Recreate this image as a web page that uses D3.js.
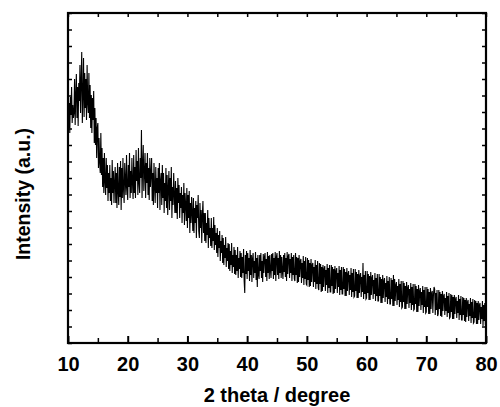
<!DOCTYPE html>
<html>
<head>
<meta charset="utf-8">
<style>
  body { margin: 0; background: #fff; }
  text { font-family: "Liberation Sans", Arial, sans-serif; font-weight: bold; }
</style>
</head>
<body>
<svg id="xrd" width="500" height="407" viewBox="0 0 500 407" xmlns="http://www.w3.org/2000/svg"></svg>
<script src="https://d3js.org/d3.v7.min.js"></script>
<script>

// 2 theta from 10 to 80, step 0.1 deg
const start2theta = 10, step2theta = 0.1;
// intensity (a.u.), one row per degree
const intensity = [
  2500, 2150, 2400, 2100, 2460, 2280, 2560, 2200, 2380, 2250,  // 10
  2300, 2640, 2180, 2480, 2690, 2250, 2560, 2170, 2600, 2420,  // 11
  2780, 2300, 2620, 2910, 2200, 2480, 2850, 2260, 2700, 2350,  // 12
  2640, 2230, 2780, 2400, 2300, 2700, 2250, 2580, 2150, 2480,  // 13
  2100, 2450, 2230, 2520, 2000, 2350, 1980, 2250, 1850, 2150,  // 14
  2200, 1750, 2050, 1800, 1700, 2100, 1680, 1950, 1560, 1850,  // 15
  1500, 1900, 1620, 1480, 1850, 1550, 1780, 1420, 1700, 1500,  // 16
  1780, 1420, 1650, 1380, 1830, 1500, 1720, 1400, 1600, 1760,  // 17
  1400, 1700, 1350, 1800, 1520, 1380, 1760, 1460, 1820, 1330,  // 18
  1750, 1450, 1850, 1540, 1400, 1800, 1620, 1480, 1880, 1560,  // 19
  1430, 1780, 1560, 1900, 1450, 1720, 1500, 1850, 1600, 1440,  // 20
  1880, 1500, 1760, 1450, 1930, 1620, 1820, 1480, 1950, 1600,  // 21
  1500, 1850, 1650, 2130, 1450, 1780, 1980, 1520, 1700, 1900,  // 22
  1450, 1800, 1600, 1900, 1480, 1750, 1430, 1850, 1560, 1700,  // 23
  1850, 1420, 1700, 1380, 1800, 1560, 1400, 1760, 1500, 1650,  // 24
  1350, 1750, 1500, 1800, 1330, 1620, 1700, 1380, 1780, 1450,  // 25
  1700, 1300, 1600, 1420, 1750, 1350, 1680, 1280, 1550, 1720,  // 26
  1330, 1650, 1420, 1760, 1250, 1560, 1380, 1700, 1480, 1300,  // 27
  1620, 1300, 1550, 1240, 1650, 1400, 1580, 1250, 1500, 1350,  // 28
  1560, 1200, 1480, 1300, 1600, 1180, 1500, 1380, 1220, 1550,  // 29
  1150, 1480, 1250, 1520, 1100, 1400, 1200, 1460, 1300, 1120,  // 30
  1450, 1100, 1350, 1200, 1420, 1050, 1380, 1250, 1480, 1120,  // 31
  1050, 1400, 1150, 1330, 1000, 1280, 1420, 1100, 1300, 1020,  // 32
  1300, 1000, 1200, 1080, 1330,  950, 1250, 1050, 1150,  970,  // 33
  1250,  950, 1150, 1020, 1260,  930, 1180,  980, 1100,  900,  // 34
  1150,  860, 1080,  950, 1120,  820, 1020,  900, 1080,  800,  // 35
  1050,  780,  980,  850, 1060,  760,  950,  820, 1000,  740,  // 36
   990,  720,  920,  780, 1000,  700,  880,  760,  960,  690,  // 37
   930,  680,  880,  720,  960,  650,  850,  740,  920,  660,  // 38
   900,  650,  860,  700,  940,  620,  500,  880,  690,  920,  // 39
   640,  900,  720,  850,  620,  930,  680,  880,  610,  840,  // 40
   900,  650,  820,  700,  910,  630,  850,  560,  880,  680,  // 41
   640,  880,  720,  900,  650,  820,  610,  890,  700,  860,  // 42
   900,  660,  840,  620,  910,  700,  870,  640,  880,  730,  // 43
   650,  890,  720,  900,  640,  850,  680,  910,  620,  860,  // 44
   900,  680,  850,  640,  920,  700,  880,  650,  860,  720,  // 45
   640,  880,  710,  900,  660,  850,  620,  910,  690,  870,  // 46
   890,  650,  840,  700,  900,  620,  860,  680,  880,  640,  // 47
   620,  900,  680,  860,  600,  850,  610,  880,  660,  820,  // 48
   840,  600,  800,  650,  870,  580,  820,  640,  860,  590,  // 49
   580,  850,  630,  830,  560,  800,  570,  840,  610,  780,  // 50
   800,  560,  760,  610,  830,  540,  780,  590,  820,  550,  // 51
   530,  800,  590,  790,  510,  760,  520,  780,  560,  740,  // 52
   770,  520,  730,  580,  790,  500,  750,  550,  780,  510,  // 53
   510,  780,  570,  760,  490,  740,  500,  770,  540,  720,  // 54
   750,  500,  700,  560,  770,  480,  730,  530,  760,  490,  // 55
   490,  760,  540,  740,  470,  710,  470,  750,  520,  690,  // 56
   720,  480,  680,  530,  750,  460,  700,  510,  740,  460,  // 57
   470,  740,  520,  710,  450,  690,  450,  730,  500,  670,  // 58
   700,  460,  660,  510,  800,  440,  680,  490,  720,  440,  // 59
   450,  720,  500,  690,  430,  670,  430,  710,  480,  650,  // 60
   680,  440,  630,  490,  700,  420,  650,  470,  690,  420,  // 61
   420,  690,  470,  660,  400,  640,  400,  680,  450,  620,  // 62
   650,  410,  600,  460,  670,  390,  620,  440,  660,  390,  // 63
   390,  650,  440,  630,  370,  680,  370,  640,  420,  580,  // 64
   610,  380,  570,  430,  640,  360,  590,  410,  620,  350,  // 65
   360,  620,  410,  600,  340,  570,  340,  610,  390,  550,  // 66
   580,  350,  540,  400,  600,  330,  560,  380,  590,  330,  // 67
   340,  590,  390,  570,  310,  540,  310,  580,  370,  520,  // 68
   550,  330,  510,  380,  570,  300,  530,  360,  560,  300,  // 69
   310,  560,  360,  540,  290,  510,  290,  550,  340,  500,  // 70
   520,  300,  480,  560,  540,  280,  500,  330,  530,  270,  // 71
   290,  530,  340,  510,  270,  490,  260,  520,  320,  470,  // 72
   490,  280,  450,  320,  510,  260,  470,  300,  500,  250,  // 73
   260,  490,  310,  480,  240,  460,  240,  480,  290,  440,  // 74
   460,  250,  420,  300,  480,  230,  440,  280,  470,  230,  // 75
   230,  460,  280,  450,  220,  430,  210,  450,  260,  410,  // 76
   430,  220,  390,  270,  450,  200,  410,  250,  440,  200,  // 77
   210,  430,  250,  420,  190,  400,  190,  420,  230,  380,  // 78
   400,  190,  360,  240,  420,  170,  380,  220,  400,  180,  // 79
   290                                                         // 80
];

const xTicks = [10, 20, 30, 40, 50, 60, 70, 80];
const xMinorTicks = [15, 25, 35, 45, 55, 65, 75];
const yTickStep = 165;

const margin = { left: 68, right: 14, top: 13, bottom: 64 };
const width = 500, height = 407;

const x = d3.scaleLinear()
  .domain([10, 80])
  .range([margin.left, width - margin.right]);

const y = d3.scaleLinear()
  .domain([0, 3300])
  .range([height - margin.bottom, margin.top]);

const svg = d3.select("#xrd");

const data = intensity.map((v, i) => ({ t: start2theta + i * step2theta, v: v }));

const line = d3.line()
  .x(d => x(d.t))
  .y(d => y(d.v));

svg.append("path")
  .datum(data)
  .attr("d", line)
  .attr("fill", "none")
  .attr("stroke", "#000")
  .attr("stroke-width", 1.1);

// bottom axis, major and minor ticks inward
const xAxis = d3.axisBottom(x)
  .tickValues(xTicks)
  .tickSize(-7)
  .tickPadding(14)
  .tickFormat(d3.format("d"));

const gx = svg.append("g")
  .attr("transform", `translate(0,${y(0)})`)
  .call(xAxis);
gx.select(".domain").remove();
gx.selectAll(".tick line").attr("stroke-width", 2);
gx.selectAll(".tick text")
  .attr("font-size", "20px")
  .attr("fill", "#000")
  .style("font-family", "'Liberation Sans', Arial, sans-serif")
  .style("font-weight", "bold");

const gxMinor = svg.append("g")
  .attr("transform", `translate(0,${y(0)})`)
  .call(d3.axisBottom(x).tickValues(xMinorTicks).tickSize(-5).tickFormat(""));
gxMinor.select(".domain").remove();
gxMinor.selectAll(".tick line").attr("stroke-width", 1.5);

// top axis ticks every 5
const gTop = svg.append("g")
  .attr("transform", `translate(0,${y(3300)})`)
  .call(d3.axisTop(x).tickValues(xTicks.concat(xMinorTicks)).tickSize(-4).tickFormat(""));
gTop.select(".domain").remove();
gTop.selectAll(".tick line").attr("stroke-width", 1.5);

// left and right ticks, no labels
const yTicks = d3.range(0, 3300 + 1, yTickStep);
const gLeft = svg.append("g")
  .attr("transform", `translate(${x(10)},0)`)
  .call(d3.axisLeft(y).tickValues(yTicks).tickSize(-4).tickFormat(""));
gLeft.select(".domain").remove();
gLeft.selectAll(".tick line").attr("stroke-width", 1.5);

const gRight = svg.append("g")
  .attr("transform", `translate(${x(80)},0)`)
  .call(d3.axisRight(y).tickValues(yTicks).tickSize(-4).tickFormat(""));
gRight.select(".domain").remove();
gRight.selectAll(".tick line").attr("stroke-width", 1.5);

// frame
svg.append("rect")
  .attr("x", x(10))
  .attr("y", y(3300))
  .attr("width", x(80) - x(10))
  .attr("height", y(0) - y(3300))
  .attr("fill", "none")
  .attr("stroke", "#000")
  .attr("stroke-width", 2.2);

// axis titles
svg.append("text")
  .attr("x", (x(10) + x(80)) / 2)
  .attr("y", 402)
  .attr("text-anchor", "middle")
  .attr("font-size", "20px")
  .text("2 theta / degree");

svg.append("text")
  .attr("transform", "translate(30,194) rotate(-90)")
  .attr("text-anchor", "middle")
  .attr("font-size", "19.5px")
  .text("Intensity (a.u.)");
</script>
</body>
</html>
